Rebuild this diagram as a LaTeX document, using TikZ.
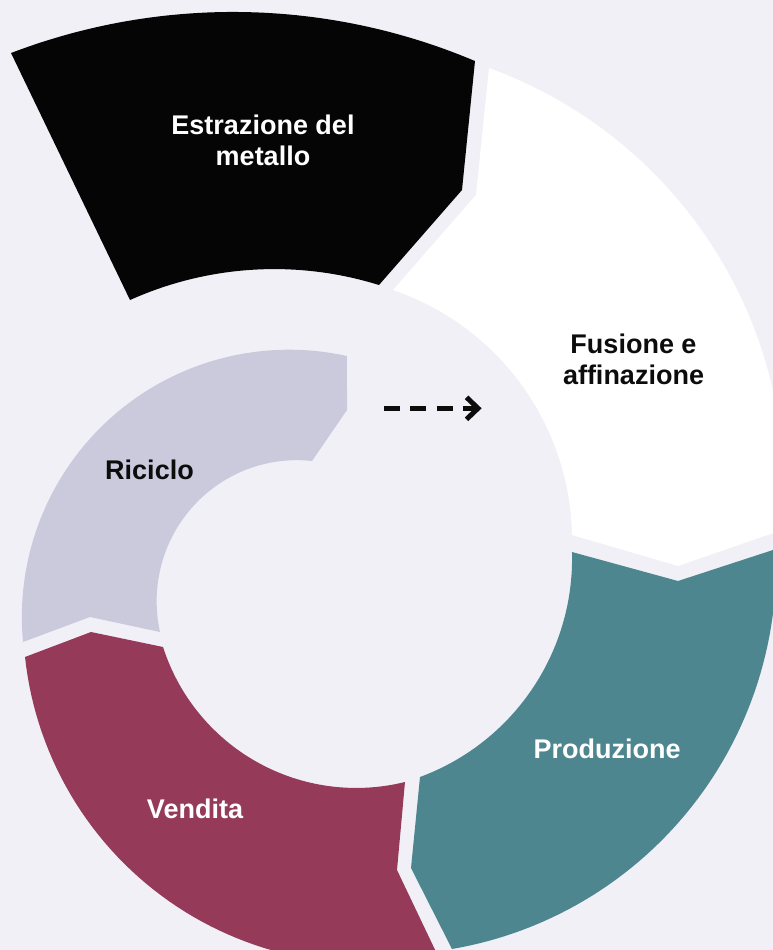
\documentclass[tikz,border=0pt]{standalone}
\usepackage{fontspec}
\setmainfont{Liberation Sans}
\definecolor{bgc}{RGB}{241,240,246}
\definecolor{blk}{RGB}{5,5,5}
\definecolor{lav}{RGB}{203,202,221}
\definecolor{mar}{RGB}{149,58,88}
\definecolor{tea}{RGB}{78,134,144}
\definecolor{ink}{RGB}{12,12,12}
\makeatletter
% #1 name, #2 cx, #3 cy, #4 x1, #5 y1, #6 x2, #7 y2, #8 direction (1 = clockwise on screen, -1 = counter)
\newcommand\mkarc[8]{%
  \pgfmathsetmacro\mk@a{atan2((#5)-(#3),(#4)-(#2))}%
  \pgfmathsetmacro\mk@b{atan2((#7)-(#3),(#6)-(#2))}%
  \pgfmathsetmacro\mk@ra{veclen((#4)-(#2),(#5)-(#3))}%
  \pgfmathsetmacro\mk@rb{veclen((#6)-(#2),(#7)-(#3))}%
  \pgfmathsetmacro\mk@b{(#8>0) ? ((\mk@b<\mk@a) ? \mk@b+360 : \mk@b) : ((\mk@b>\mk@a) ? \mk@b-360 : \mk@b)}%
  \expandafter\xdef\csname #1\endcsname{-- plot[domain=\mk@a:\mk@b, samples=60, variable=\noexpand\t]
     ({(#2)+(\mk@ra+(\mk@rb-(\mk@ra))*(\noexpand\t-(\mk@a))/(\mk@b-(\mk@a)))*cos(\noexpand\t)},
      {(#3)+(\mk@ra+(\mk@rb-(\mk@ra))*(\noexpand\t-(\mk@a))/(\mk@b-(\mk@a)))*sin(\noexpand\t)})}%
}
\makeatother
% Estrazione
\mkarc{arcEo}{233}{633}{11}{53}{475}{61}{1}
\mkarc{arcEi}{274}{621}{379}{285}{130}{300}{-1}
% Fusione
\mkarc{arcFo}{336}{489}{489}{68}{782}{530}{1}
\mkarc{arcFi}{308}{540}{572}{535}{393}{290}{-1}
% Produzione
\mkarc{arcPo}{382}{568}{776}{549}{452}{949}{1}
\mkarc{arcPi}{339}{559}{420}{777}{572}{552}{-1}
% Vendita
\mkarc{arcVo}{366}{620}{438}{956}{25}{657}{1}
\mkarc{arcVi}{356}{585}{163}{647}{405}{782}{-1}
% Riciclo
\mkarc{arcRo}{289}{617}{23}{642}{347}{356}{1}
\mkarc{arcRi}{299}{599}{312}{461}{160}{632}{-1}
\tikzset{
  lbl/.style={inner sep=0pt, font=\fontsize{27}{31}\selectfont\bfseries},
  arrline/.style={draw=ink, line width=5pt}
}
\begin{document}
\begin{tikzpicture}[x=1pt, y=-1pt]
\useasboundingbox (0,0) rectangle (773,950);
\clip (0,0) rectangle (773,950);
\fill[bgc] (0,0) rectangle (773,950);
% segments
\fill[blk] (11,53) \arcEo -- (462,190) -- (379,285) \arcEi -- cycle;
\fill[white] (489,68) \arcFo -- (678,566) -- (572,535) \arcFi -- (476,195) -- cycle;
\fill[tea] (776,549) \arcPo -- (411,868) -- (420,777) \arcPi -- (678,581) -- cycle;
\fill[mar] (438,956) \arcVo -- (91,632) -- (163,647) \arcVi -- (397,870) -- cycle;
\fill[lav] (23,642) \arcRo -- (347,410) -- (312,461) \arcRi -- (90,617) -- cycle;
% labels
\node[lbl, text=white, align=center] (tE) at (263,140.3) {Estrazione del\\metallo};
\node[lbl, text=ink, align=center] (tF) at (633.5,359.3) {Fusione e\\affinazione};
\node[lbl, text=white, anchor=base] (tP) at (607,758.3) {Produzione};
\node[lbl, text=white, anchor=base] (tV) at (195,818.7) {Vendita};
\node[lbl, text=ink, anchor=base] (tR) at (149.5,479) {Riciclo};
% dashed arrow
\coordinate (aS) at (384,408.3);
\coordinate (aE) at (478,408.3);
\coordinate (aU) at (466.5,397.3);
\coordinate (aD) at (466.5,419.3);
\draw[arrline, dash pattern=on 16pt off 10.3pt] (aS) -- (aE);
\draw[arrline, line join=miter] (aU) -- (aE) -- (aD);
\end{tikzpicture}
\end{document}
